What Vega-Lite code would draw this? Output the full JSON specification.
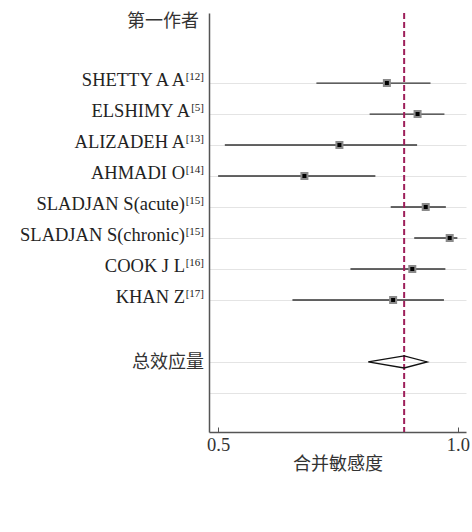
{
  "$schema": "https://vega.github.io/schema/vega-lite/v6.json",
  "autosize": {"type": "none"},
  "padding": {"left": 209, "top": 13, "right": 6, "bottom": 100},
  "width": 257,
  "height": 419,
  "config": {"view": {"stroke": null}},
  "datasets": {
    "studies": [
      {"name": "SHETTY A A", "ref": "[12]", "row": 2, "est": 0.852, "lo": 0.705, "hi": 0.943},
      {"name": "ELSHIMY A", "ref": "[5]", "row": 3, "est": 0.916, "lo": 0.816, "hi": 0.972},
      {"name": "ALIZADEH A", "ref": "[13]", "row": 4, "est": 0.753, "lo": 0.514, "hi": 0.915},
      {"name": "AHMADI O", "ref": "[14]", "row": 5, "est": 0.680, "lo": 0.500, "hi": 0.828},
      {"name": "SLADJAN S(acute)", "ref": "[15]", "row": 6, "est": 0.933, "lo": 0.860, "hi": 0.975},
      {"name": "SLADJAN S(chronic)", "ref": "[15]", "row": 7, "est": 0.983, "lo": 0.909, "hi": 0.999},
      {"name": "COOK J L", "ref": "[16]", "row": 8, "est": 0.905, "lo": 0.776, "hi": 0.974},
      {"name": "KHAN Z", "ref": "[17]", "row": 9, "est": 0.865, "lo": 0.655, "hi": 0.971}
    ],
    "headers": [
      {"label": "第一作者", "row": 0, "kind": "header"},
      {"label": "总效应量", "row": 11, "kind": "pooled"}
    ],
    "diamond": [
      {"x": 0.813, "row": 11, "ord": 1},
      {"x": 0.888, "row": 10.806, "ord": 2},
      {"x": 0.936, "row": 11, "ord": 3},
      {"x": 0.888, "row": 11.194, "ord": 4},
      {"x": 0.813, "row": 11, "ord": 5}
    ],
    "pooled": [{"est": 0.888}]
  },
  "layer": [
    {
      "data": {"name": "studies"},
      "mark": {"type": "rule", "color": "#333333", "strokeWidth": 1.3},
      "encoding": {
        "x": {
          "field": "lo", "type": "quantitative",
          "scale": {"domain": [0.481, 1.017], "nice": false, "zero": false},
          "axis": {
            "values": [0.5, 1.0], "format": ".1f", "grid": false,
            "domainColor": "#555555", "domainWidth": 1.5,
            "tickColor": "#555555", "tickSize": -5, "tickWidth": 1,
            "labelFont": "Liberation Serif, Times New Roman, serif", "labelFontSize": 18.5, "labelColor": "#333333",
            "labelPadding": 8, "labelFlush": false,
            "title": "合并敏感度", "titleFont": "Noto Sans CJK SC", "titleFontSize": 18,
            "titleFontWeight": "normal", "titleColor": "#333333", "titlePadding": 2
          }
        },
        "x2": {"field": "hi"},
        "y": {
          "field": "row", "type": "quantitative",
          "scale": {"domain": [-0.26, 13.26], "reverse": true, "nice": false, "zero": false},
          "axis": {
            "values": [2, 3, 4, 5, 6, 7, 8, 9, 11, 12], "ticks": false, "labels": false,
            "title": null, "grid": true, "gridColor": "#e4e4e4", "gridWidth": 1,
            "domainColor": "#555555", "domainWidth": 1.5
          }
        }
      }
    },
    {
      "data": {"name": "pooled"},
      "mark": {"type": "rule", "color": "#9e1f5a", "strokeWidth": 2, "strokeDash": [6, 3]},
      "encoding": {"x": {"field": "est", "type": "quantitative"}}
    },
    {
      "data": {"name": "studies"},
      "mark": {"type": "square", "size": 36, "fill": "#000000", "stroke": "#8a8a8a", "strokeWidth": 2, "opacity": 1},
      "encoding": {
        "x": {"field": "est", "type": "quantitative"},
        "y": {"field": "row", "type": "quantitative"}
      }
    },
    {
      "data": {"name": "diamond"},
      "mark": {"type": "line", "color": "#111111", "strokeWidth": 1.3},
      "encoding": {
        "x": {"field": "x", "type": "quantitative"},
        "y": {"field": "row", "type": "quantitative"},
        "order": {"field": "ord"}
      }
    },
    {
      "data": {"name": "studies"},
      "transform": [{"filter": "datum.ref != '[5]'"}],
      "mark": {"type": "text", "align": "right", "baseline": "alphabetic", "dx": -24, "dy": 3, "font": "Liberation Serif, Times New Roman, serif", "fontSize": 18.5, "color": "#222222"},
      "encoding": {
        "x": {"datum": 0.481, "type": "quantitative"},
        "y": {"field": "row", "type": "quantitative"},
        "text": {"field": "name"}
      }
    },
    {
      "data": {"name": "studies"},
      "transform": [{"filter": "datum.ref == '[5]'"}],
      "mark": {"type": "text", "align": "right", "baseline": "alphabetic", "dx": -19, "dy": 3, "font": "Liberation Serif, Times New Roman, serif", "fontSize": 18.5, "color": "#222222"},
      "encoding": {
        "x": {"datum": 0.481, "type": "quantitative"},
        "y": {"field": "row", "type": "quantitative"},
        "text": {"field": "name"}
      }
    },
    {
      "data": {"name": "studies"},
      "mark": {"type": "text", "align": "right", "baseline": "alphabetic", "dx": -5, "dy": -3, "font": "Liberation Serif, Times New Roman, serif", "fontSize": 11, "color": "#222222"},
      "encoding": {
        "x": {"datum": 0.481, "type": "quantitative"},
        "y": {"field": "row", "type": "quantitative"},
        "text": {"field": "ref"}
      }
    },
    {
      "data": {"name": "headers"},
      "transform": [{"filter": "datum.kind == 'header'"}],
      "mark": {"type": "text", "align": "right", "baseline": "middle", "dx": -10, "dy": 1, "font": "Noto Sans CJK SC", "fontSize": 18, "color": "#333333"},
      "encoding": {
        "x": {"datum": 0.481, "type": "quantitative"},
        "y": {"field": "row", "type": "quantitative"},
        "text": {"field": "label"}
      }
    },
    {
      "data": {"name": "headers"},
      "transform": [{"filter": "datum.kind == 'pooled'"}],
      "mark": {"type": "text", "align": "right", "baseline": "middle", "dx": -5, "dy": 1, "font": "Noto Sans CJK SC", "fontSize": 18, "color": "#333333"},
      "encoding": {
        "x": {"datum": 0.481, "type": "quantitative"},
        "y": {"field": "row", "type": "quantitative"},
        "text": {"field": "label"}
      }
    }
  ]
}
